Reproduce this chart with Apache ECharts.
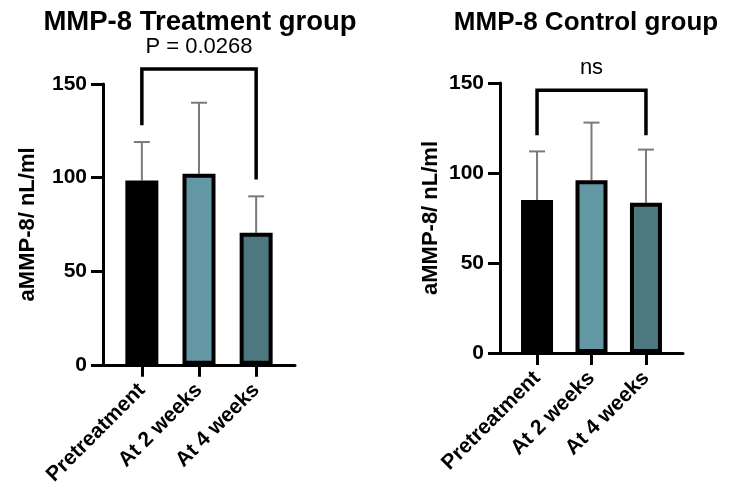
<!DOCTYPE html>
<html>
<head>
<meta charset="utf-8">
<script src="https://cdn.jsdelivr.net/npm/echarts@6/dist/echarts.min.js"></script>
<style>
  html, body { margin: 0; padding: 0; background: #fff; }
  #main { width: 730px; height: 488px; }
</style>
</head>
<body>
<div id="main"></div>
<script>
// 分类与数据
var categories = ['Pretreatment', 'At 2 weeks', 'At 4 weeks'];
var treatMean = [98.5, 102, 70.5];
var treatSD = [20.5, 38, 19.5];
var controlMean = [85, 96, 83.5];
var controlSD = [27, 32, 29.5];
var yTicks = [0, 50, 100, 150];
var titles = ['MMP-8 Treatment group', 'MMP-8 Control group'];
var yName = 'aMMP-8/ nL/ml';
// 显著性括号: [起点分类, 终点分类, 顶部值, 左腿底, 右腿底]
var treatBracket = [0, 2, 158, 128, 99];
var controlBracket = [0, 2, 146, 121, 121];
var sigLabels = ['P = 0.0268', 'ns'];

var barColors = ['#000000', '#6397a3', '#4e7880'];
var font = '"Liberation Sans", Arial, sans-serif';

var myChart = echarts.init(document.getElementById('main'));

function barData(mean) {
	var arr = [];
	for (var i = 0; i < mean.length; i++) {
		arr.push({ value: [i, mean[i]], itemStyle: { color: barColors[i] } });
	}
	return arr;
}

function errData(mean, sd) {
	var arr = [];
	for (var i = 0; i < mean.length; i++) {
		arr.push([i, mean[i], sd[i]]);
	}
	return arr;
}

// 误差线（只画上半部分）
function renderErr(params, api) {
	var x = api.value(0), m = api.value(1), sd = api.value(2);
	var p0 = api.coord([x, m]);
	var p1 = api.coord([x, m + sd]);
	var st = { stroke: '#7a7a7a', lineWidth: 2 };
	return {
		type: 'group',
		children: [
			{ type: 'line', shape: { x1: p0[0], y1: p0[1], x2: p1[0], y2: p1[1] }, style: st },
			{ type: 'line', shape: { x1: p1[0] - 8, y1: p1[1], x2: p1[0] + 8, y2: p1[1] }, style: st }
		]
	};
}

function makeBracketRender(label) {
	return function (params, api) {
		var a = api.value(0), b = api.value(1), top = api.value(2);
		var l = api.value(3), r = api.value(4);
		var pa = api.coord([a, top]), pb = api.coord([b, top]);
		var pl = api.coord([a, l]), pr = api.coord([b, r]);
		return {
			type: 'group',
			children: [
				{
					type: 'polyline',
					shape: { points: [[pl[0], pl[1]], [pa[0], pa[1]], [pb[0], pb[1]], [pr[0], pr[1]]] },
					style: { stroke: '#000', lineWidth: 3.5, fill: null }
				},
				{
					type: 'text',
					x: (pa[0] + pb[0]) / 2,
					y: pa[1] - 22,
					style: { text: label, fill: '#000', font: '22px ' + font, align: 'center', verticalAlign: 'middle' }
				}
			]
		};
	};
}

function xAxisOpt(idx) {
	return {
		gridIndex: idx,
		type: 'value',
		min: -0.68,
		max: 2.68,
		splitLine: { show: false },
		axisLine: { show: true, onZero: false, lineStyle: { color: '#000', width: 3 } },
		axisTick: { show: true, customValues: [0, 1, 2], length: 12, lineStyle: { color: '#000', width: 3 } },
		axisLabel: {
			customValues: [0, 1, 2],
			rotate: 45,
			margin: 22,
			color: '#000',
			fontWeight: 'bold',
			fontSize: 21,
			fontFamily: font,
			formatter: function (v) { return categories[Math.round(v)]; }
		}
	};
}

function yAxisOpt(idx, gap) {
	return {
		gridIndex: idx,
		type: 'value',
		min: yTicks[0],
		max: yTicks[yTicks.length - 1],
		interval: 50,
		name: yName,
		nameLocation: 'middle',
		nameGap: gap,
		nameTextStyle: { color: '#000', fontWeight: 'bold', fontSize: 22, fontFamily: font },
		splitLine: { show: false },
		axisLine: { show: true, onZero: false, lineStyle: { color: '#000', width: 3 } },
		axisTick: { show: true, length: 12, lineStyle: { color: '#000', width: 3 } },
		axisLabel: { margin: 16, color: '#000', fontWeight: 'bold', fontSize: 21, fontFamily: font }
	};
}

var option = {
	animation: false,
	backgroundColor: '#fff',
	graphic: [
		{ type: 'text', x: 200, y: 22, style: { text: titles[0], fill: '#000', font: 'bold 27.5px ' + font, align: 'center', verticalAlign: 'middle' } },
		{ type: 'text', x: 586, y: 22.5, style: { text: titles[1], fill: '#000', font: 'bold 26px ' + font, align: 'center', verticalAlign: 'middle' } }
	],
	grid: [
		{ left: 103, top: 84, width: 192, height: 284 },
		{ left: 500, top: 83, width: 183, height: 270 }
	],
	xAxis: [xAxisOpt(0), xAxisOpt(1)],
	yAxis: [yAxisOpt(0, 64), yAxisOpt(1, 58)],
	series: [
		{
			type: 'custom', xAxisIndex: 0, yAxisIndex: 0, z: 1,
			renderItem: renderErr, data: errData(treatMean, treatSD)
		},
		{
			type: 'bar', xAxisIndex: 0, yAxisIndex: 0, z: 2,
			barWidth: 33,
			itemStyle: { borderColor: '#000', borderWidth: 4 },
			data: barData(treatMean)
		},
		{
			type: 'custom', xAxisIndex: 0, yAxisIndex: 0, z: 3, clip: false,
			renderItem: makeBracketRender(sigLabels[0]), data: [treatBracket]
		},
		{
			type: 'custom', xAxisIndex: 1, yAxisIndex: 1, z: 1,
			renderItem: renderErr, data: errData(controlMean, controlSD)
		},
		{
			type: 'bar', xAxisIndex: 1, yAxisIndex: 1, z: 2,
			barWidth: 32,
			itemStyle: { borderColor: '#000', borderWidth: 4 },
			data: barData(controlMean)
		},
		{
			type: 'custom', xAxisIndex: 1, yAxisIndex: 1, z: 3, clip: false,
			renderItem: makeBracketRender(sigLabels[1]), data: [controlBracket]
		}
	]
};

myChart.setOption(option);
</script>
</body>
</html>
